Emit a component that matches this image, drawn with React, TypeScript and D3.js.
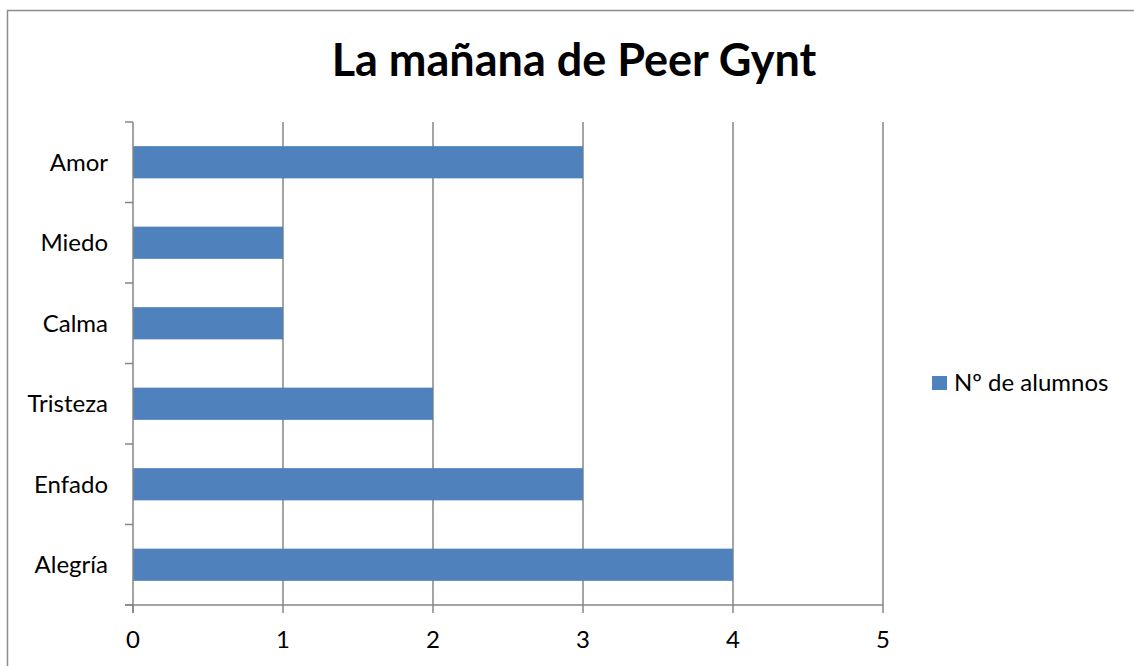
import React, { useRef, useEffect } from "react";
import * as d3 from "d3";

const categories = ["Alegría", "Enfado", "Tristeza", "Calma", "Miedo", "Amor"];
const values = [4, 3, 2, 1, 1, 3];
const xTicks = [0, 1, 2, 3, 4, 5];
const seriesName = "Nº de alumnos";
const title = "La mañana de Peer Gynt";

const App: React.FC = () => {
  const svgRef = useRef<SVGSVGElement>(null);

  useEffect(() => {
    if (!svgRef.current) return;
    const svg = d3.select(svgRef.current);
    svg.selectAll("*").remove();

    const width = 1134;
    const height = 666;
    const font = "Lato, 'Open Sans', sans-serif";
    const axisColor = "#868686";
    const barColor = "#4F81BD";

    // outer chart border (runs off the right and bottom edges)
    svg
      .append("rect")
      .attr("x", 7.5)
      .attr("y", 10.5)
      .attr("width", width + 100)
      .attr("height", height + 100)
      .attr("fill", "#fff")
      .attr("stroke", "#8c8c8c")
      .attr("stroke-width", 1.5);

    svg
      .append("text")
      .attr("x", 574)
      .attr("y", 76)
      .attr("text-anchor", "middle")
      .style("font-family", font)
      .style("font-weight", "bold")
      .style("font-size", "45px")
      .text(title);

    const x = d3.scaleLinear().domain([0, 5]).range([133, 883]);
    const y = d3
      .scaleBand<string>()
      .domain([...categories].reverse())
      .range([122, 605])
      .paddingInner(0.6)
      .paddingOuter(0.3);

    const yEdges = d3.scaleLinear().domain([0, categories.length]).range([605, 122]);

    // vertical gridlines
    svg
      .append("g")
      .selectAll("line")
      .data(xTicks.slice(1))
      .join("line")
      .attr("x1", (d) => x(d))
      .attr("x2", (d) => x(d))
      .attr("y1", 122)
      .attr("y2", 605)
      .attr("stroke", axisColor)
      .attr("stroke-width", 1.5);

    // bars
    svg
      .append("g")
      .selectAll("rect")
      .data(categories)
      .join("rect")
      .attr("x", x(0))
      .attr("y", (d) => y(d) as number)
      .attr("width", (d, i) => x(values[i]) - x(0))
      .attr("height", y.bandwidth())
      .attr("fill", barColor);

    // y axis line + ticks
    const ax = svg.append("g").attr("stroke", axisColor).attr("stroke-width", 1.5);
    ax.append("line").attr("x1", x(0)).attr("x2", x(0)).attr("y1", 122).attr("y2", 613);
    ax.selectAll(".yt")
      .data(d3.range(categories.length + 1))
      .join("line")
      .attr("class", "yt")
      .attr("x1", x(0) - 8)
      .attr("x2", x(0))
      .attr("y1", (d) => yEdges(d))
      .attr("y2", (d) => yEdges(d));
    // x axis line + ticks
    ax.append("line").attr("x1", x(0) - 8).attr("x2", x(5)).attr("y1", 605).attr("y2", 605);
    ax.selectAll(".xt")
      .data(xTicks)
      .join("line")
      .attr("class", "xt")
      .attr("x1", (d) => x(d))
      .attr("x2", (d) => x(d))
      .attr("y1", 605)
      .attr("y2", 613);

    // category labels
    svg
      .append("g")
      .selectAll("text")
      .data(categories)
      .join("text")
      .attr("x", 108)
      .attr("y", (d) => (y(d) as number) + y.bandwidth() / 2)
      .attr("dy", "0.35em")
      .attr("text-anchor", "end")
      .style("font-family", font)
      .style("font-size", "24px")
      .text((d) => d);

    // x tick labels
    svg
      .append("g")
      .selectAll("text")
      .data(xTicks)
      .join("text")
      .attr("x", (d) => x(d))
      .attr("y", 648)
      .attr("text-anchor", "middle")
      .style("font-family", font)
      .style("font-size", "24px")
      .text((d) => d3.format("d")(d));

    // legend
    const lg = svg.append("g").attr("transform", "translate(932,376)");
    lg.append("rect").attr("width", 15).attr("height", 14).attr("fill", barColor);
    lg.append("text")
      .attr("x", 22)
      .attr("y", 7)
      .attr("dy", "0.35em")
      .style("font-family", font)
      .style("font-size", "24px")
      .text(seriesName);
  }, []);

  return (
    <svg
      ref={svgRef}
      width={1134}
      height={666}
      style={{ position: "absolute", left: 0, top: 0, background: "#fff" }}
    />
  );
};

export default App;
